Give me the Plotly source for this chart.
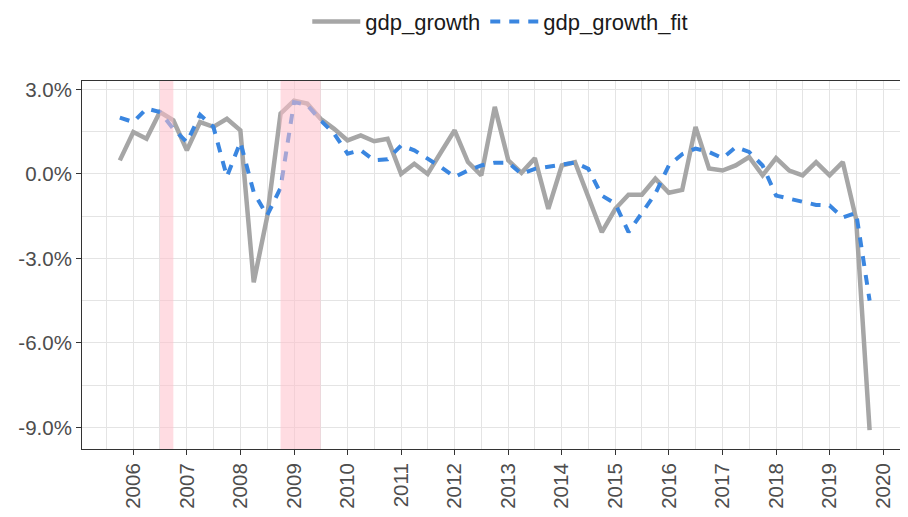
import plotly.graph_objects as go

# Quarterly dates
dates = [
    "2005-10-01",
    "2006-01-01", "2006-04-01", "2006-07-01", "2006-10-01",
    "2007-01-01", "2007-04-01", "2007-07-01", "2007-10-01",
    "2008-01-01", "2008-04-01", "2008-07-01", "2008-10-01",
    "2009-01-01", "2009-04-01", "2009-07-01", "2009-10-01",
    "2010-01-01", "2010-04-01", "2010-07-01", "2010-10-01",
    "2011-01-01", "2011-04-01", "2011-07-01", "2011-10-01",
    "2012-01-01", "2012-04-01", "2012-07-01", "2012-10-01",
    "2013-01-01", "2013-04-01", "2013-07-01", "2013-10-01",
    "2014-01-01", "2014-04-01", "2014-07-01", "2014-10-01",
    "2015-01-01", "2015-04-01", "2015-07-01", "2015-10-01",
    "2016-01-01", "2016-04-01", "2016-07-01", "2016-10-01",
    "2017-01-01", "2017-04-01", "2017-07-01", "2017-10-01",
    "2018-01-01", "2018-04-01", "2018-07-01", "2018-10-01",
    "2019-01-01", "2019-04-01", "2019-07-01", "2019-10-01",
]

gdp_growth = [
    0.48,
    1.49, 1.25, 2.20, 1.90,
    0.84, 1.84, 1.67, 1.96,
    1.55, -3.85, -1.54, 2.14,
    2.60, 2.50, 1.96, 1.60,
    1.19, 1.37, 1.16, 1.25,
    0.00, 0.36, 0.00, 0.78,
    1.55, 0.42, -0.05, 2.38,
    0.48, 0.04, 0.56, -1.24,
    0.30, 0.42, -0.77, -2.07,
    -1.24, -0.74, -0.74, -0.17,
    -0.67, -0.57, 1.67, 0.19,
    0.12, 0.30, 0.60, -0.05,
    0.56, 0.12, -0.05, 0.42,
    -0.05, 0.42, -1.60, -9.10,
]

gdp_growth_fit = [
    2.00,
    1.84, 2.32, 2.20, 1.60,
    1.13, 2.10, 1.67, -0.10,
    1.13, -0.65, -1.48, -0.50,
    2.55, 2.45, 1.90, 1.43,
    0.72, 0.84, 0.48, 0.52,
    1.01, 0.84, 0.54, 0.24,
    -0.11, 0.12, 0.30, 0.40,
    0.40, 0.00, 0.18, 0.27,
    0.33, 0.40, 0.18, -0.77,
    -1.06, -2.07, -1.40, -0.70,
    0.30, 0.70, 0.90, 0.78,
    0.56, 0.95, 0.78, 0.30,
    -0.77, -0.88, -1.02, -1.10,
    -1.12, -1.55, -1.38, -4.50,
]

# Recession shading periods
rec_start = ["2006-07-01", "2008-10-01"]
rec_end = ["2006-10-01", "2009-07-01"]

# Y axis ticks
y_tickvals = [-9, -6, -3, 0, 3]
y_ticktext = ["-9.0%", "-6.0%", "-3.0%", "0.0%", "3.0%"]
y_minorvals = [-7.5, -4.5, -1.5, 1.5]

FONT = "Liberation Sans, Arial, sans-serif"
GRID = "#E4E4E4"

fig = go.Figure()
fig.add_trace(go.Scatter(
    x=dates, y=gdp_growth, mode="lines", name="gdp_growth",
    line=dict(color="#A6A6A6", width=4.5),
))
fig.add_trace(go.Scatter(
    x=dates, y=gdp_growth_fit, mode="lines", name="gdp_growth_fit",
    line=dict(color="#3A86E0", width=4, dash="10px,9px"),
))

for s, e in zip(rec_start, rec_end):
    fig.add_shape(type="rect", xref="x", yref="paper", x0=s, x1=e, y0=0, y1=1,
                  fillcolor="rgba(255,192,203,0.55)", line=dict(width=0), layer="above")

fig.update_layout(
    width=900, height=509,
    margin=dict(l=74, r=1, t=73, b=68, autoexpand=False),
    paper_bgcolor="white", plot_bgcolor="white",
    font=dict(family=FONT, color="#4D4D4D"),
    showlegend=True,
    legend=dict(orientation="h", x=0.507, xanchor="center", y=1.218, yanchor="top",
                font=dict(size=22, color="#1A1A1A", family=FONT), bgcolor="rgba(0,0,0,0)",
                itemwidth=48),
    xaxis=dict(
        type="date", range=["2005-01-16", "2020-06-12"],
        tickmode="linear", tick0="2006-01-01", dtick="M12", tickformat="%Y",
        tickangle=-90, ticks="outside", ticklen=5, tickcolor="#333333",
        tickfont=dict(size=20.5, color="#4D4D4D"),
        showgrid=True, gridcolor=GRID, gridwidth=1,
        minor=dict(tick0="2006-01-01", dtick="M6", showgrid=True, gridcolor=GRID, gridwidth=1, ticks=""),
        showline=True, mirror=True, linecolor="#333333", linewidth=1, zeroline=False,
    ),
    yaxis=dict(
        range=[-9.77, 3.3],
        tickmode="array", tickvals=y_tickvals, ticktext=y_ticktext,
        ticks="outside", ticklen=5, tickcolor="#333333",
        tickfont=dict(size=20.5, color="#4D4D4D"),
        showgrid=True, gridcolor=GRID, gridwidth=1,
        minor=dict(tickmode="array", tickvals=y_minorvals, showgrid=True, gridcolor=GRID, gridwidth=1, ticks=""),
        showline=True, mirror=True, linecolor="#333333", linewidth=1, zeroline=False,
    ),
)

fig.write_html("out.html")
